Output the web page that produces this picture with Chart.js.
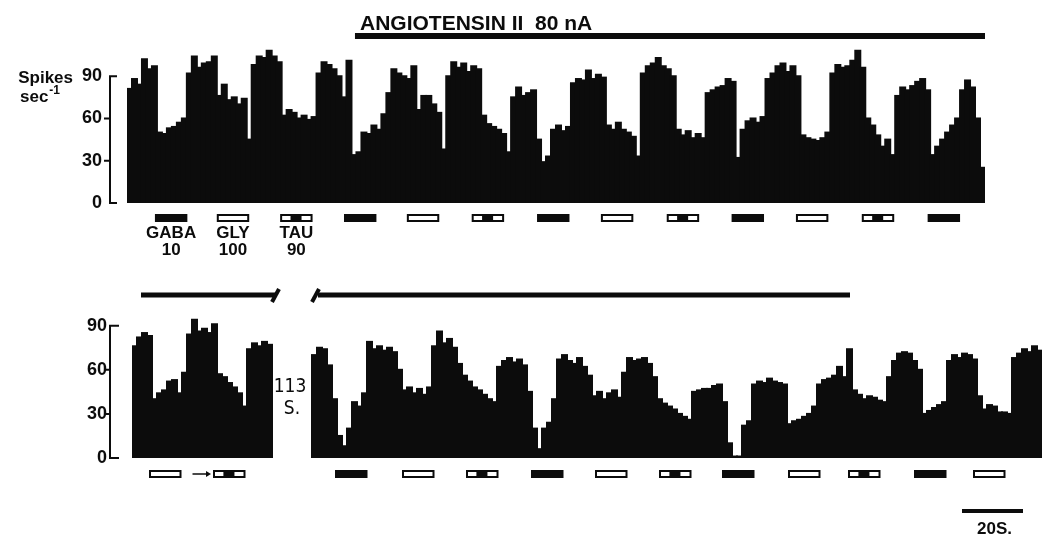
<!DOCTYPE html>
<html><head><meta charset="utf-8">
<script src="https://cdn.jsdelivr.net/npm/chart.js@4.4.1/dist/chart.umd.min.js"></script>
<style>
html,body{margin:0;padding:0;background:#fff;}
#wrap{position:relative;width:1045px;height:543px;overflow:hidden;}
canvas{position:absolute;left:0;top:0;}
</style></head><body>
<div id="wrap"><canvas id="topChart" width="1045" height="543"></canvas><canvas id="botChart" width="1045" height="543"></canvas></div>
<script>
// ---- data (spikes / sec, one value per ~1.6 s bin) ----
const topRate = [
81, 88, 84, 102, 95, 97,
50, 49, 53, 54, 57, 60,
92, 104, 96, 99, 100, 104,
76, 84, 73, 75, 70, 74, 45,
98, 104, 103, 108, 104, 100,
62, 66, 64, 60, 62, 59, 61,
92, 100, 98, 95, 90, 75, 101,
34, 36, 50, 49, 55, 52, 63,
78, 95, 92, 90, 88, 97,
66, 76, 76, 70, 64, 38,
90, 100, 96, 99, 93, 97, 95,
62, 56, 54, 52, 49,
36,
75, 82, 76, 78, 80,
45, 29, 33,
52, 55, 51, 54,
85, 88, 87, 94, 88, 91, 89,
55, 52, 57, 52, 50, 47,
33,
92, 97, 99, 103, 97, 95, 90,
52, 48, 51, 46, 49, 46,
78, 80, 82, 83, 88, 86,
32,
52, 58, 60, 57, 61,
88, 92, 97, 99, 93, 97, 90,
48, 46, 45, 44, 46, 50,
92, 98, 96, 97, 101, 108, 96,
60, 55, 48, 40, 45, 34,
76, 82, 80, 83, 86, 88, 80,
34,
40, 45, 50, 55, 60,
80, 87, 82,
60, 25
];
const bottomRateBefore = [76,82,85,83, 40,44,46,52,53,44, 58,84,94,86,88,85,91, 57,55,51,48,44,35, 74,78,76,79,77];
const gapBins = 8; // 113 s omitted
const bottomRateAfter = [70,75,74,63, 40,15,8, 20,38,35,44, 79,74,76,73,75,72,60, 46,48,44,47,43,48,
 76,86,78,81,75,64, 56,52,48,46,43,40, 38, 62,66,68,65,67,63, 45,20,6, 20,24,40,
 67,70,66,64,68,62,56, 42,45,40,44,46,41, 58,68,66,67,68,64,55, 40,37,35,33,30,28,26,
 45,46,47,47,49,50,38, 10,1,1, 22,25, 50,52,51,54,52,51,50, 23,25,26,28,30,35,
 50,53,54,56,62,55, 74, 46,43,40,42,41,39,38, 55,66,71,72,71,66,60, 30,32,34,36,38,
 66,70,68,71,70,67, 42,33,36,35,31,31,30, 68,71,74,72,76,73];
const yTicks = [0, 30, 60, 90];

const topDrugs = ['GABA','GLY','TAU','GABA','GLY','TAU','GABA','GLY','TAU','GABA','GLY','TAU','GABA'];
const topDrugStart = [5.6, 18.0, 30.7, 43.5, 56.1, 69.1, 82.2, 95.0, 108.2, 121.2, 134.1, 147.3, 160.5];
const bottomDrugs = ['GLY','TAU','GABA','GLY','TAU','GABA','GLY','TAU','GABA','GLY','TAU','GABA','GLY'];
const bottomDrugStart = [3.4, 16.2, 40.6, 54.0, 66.8, 79.8, 92.6, 105.4, 118.0, 131.2, 143.2, 156.4, 168.2];
const drugLength = 6.5;
const drugNames = ['GABA','GLY','TAU'];
const drugDoses = ['10','100','90'];
const angioLabel = 'ANGIOTENSIN II  80 nA';
const angioTop = [45.7, 172];
const angioBottomA = [1.8, 28.6];
const angioBottomB = [36.8, 143.6];
const gapLabel = ['113', 'S.'];
const scaleBarBins = [166, 178.2];
const scaleBarLabel = '20S.';

// ---- helpers ----
const F = '"Liberation Sans", Arial, sans-serif';
const INK = '#0c0c0c';
function binPx(chart, b){
  const xs = chart.scales.x;
  const w = xs.getPixelForValue(1) - xs.getPixelForValue(0);
  return xs.getPixelForValue(0) - w/2 + b*w;
}
function drawDrug(ctx, type, x0, x1, y0, h){
  ctx.save();
  if (type === 'GABA'){
    ctx.fillStyle = INK; ctx.fillRect(x0, y0, x1-x0, h);
  } else {
    ctx.fillStyle = '#fff'; ctx.fillRect(x0, y0, x1-x0, h);
    ctx.strokeStyle = INK; ctx.lineWidth = 2;
    ctx.strokeRect(x0+1, y0+1, x1-x0-2, h-2);
    if (type === 'TAU'){
      ctx.fillStyle = INK;
      ctx.fillRect(x0 + (x1-x0)*0.32, y0, (x1-x0)*0.34, h);
    }
  }
  ctx.restore();
}
const bracketPlugin = {
  id: 'bracket',
  afterDraw(chart, args, opts){
    const ctx = chart.ctx, ys = chart.scales.y;
    const x = chart.chartArea.left - opts.gap;
    const yT = ys.getPixelForValue(yTicks[yTicks.length-1]);
    const yB = ys.getPixelForValue(yTicks[0]);
    ctx.save();
    ctx.strokeStyle = INK; ctx.lineWidth = 2;
    ctx.beginPath();
    ctx.moveTo(x + opts.corner, yT); ctx.lineTo(x, yT); ctx.lineTo(x, yB); ctx.lineTo(x + opts.corner, yB);
    yTicks.slice(1, -1).forEach(v => { const y = ys.getPixelForValue(v); ctx.moveTo(x - 6, y); ctx.lineTo(x, y); });
    ctx.stroke();
    ctx.restore();
  }
};
const topAnno = {
  id: 'topAnno',
  afterDraw(chart){
    const ctx = chart.ctx, ca = chart.chartArea;
    const px = b => binPx(chart, b);
    ctx.save();
    ctx.fillStyle = INK;
    // angiotensin bar
    const l0 = px(angioTop[0]), l1 = px(angioTop[1]);
    ctx.fillRect(l0, 33, l1 - l0, 6);
    ctx.font = 'bold 21px ' + F; ctx.textAlign = 'left'; ctx.textBaseline = 'alphabetic';
    ctx.fillText(angioLabel, l0 + 5, 30);
    // y title
    ctx.font = 'bold 17px ' + F; ctx.textAlign = 'right'; ctx.textBaseline = 'middle';
    ctx.fillText('Spikes', 73, 78);
    ctx.textAlign = 'left';
    ctx.fillText('sec', 20, 97);
    const w = ctx.measureText('sec').width;
    ctx.font = 'bold 12px ' + F;
    ctx.fillText('-1', 20 + w + 1, 91);
    // drug markers
    topDrugs.forEach((d, i) => {
      drawDrug(ctx, d, px(topDrugStart[i]), px(topDrugStart[i] + drugLength), ca.bottom + 11, 8);
    });
    // drug labels under first three markers
    ctx.fillStyle = INK; ctx.font = 'bold 17px ' + F; ctx.textAlign = 'center'; ctx.textBaseline = 'middle';
    drugNames.forEach((n, i) => {
      const cx = (px(topDrugStart[i]) + px(topDrugStart[i] + drugLength)) / 2;
      ctx.fillText(n, cx, ca.bottom + 30);
      ctx.fillText(drugDoses[i], cx, ca.bottom + 47);
    });
    ctx.restore();
  }
};
const botAnno = {
  id: 'botAnno',
  afterDraw(chart){
    const ctx = chart.ctx, ca = chart.chartArea;
    const px = b => binPx(chart, b);
    ctx.save();
    ctx.fillStyle = INK; ctx.strokeStyle = INK;
    const yl = 295;
    let a0 = px(angioBottomA[0]), a1 = px(angioBottomA[1]);
    ctx.fillRect(a0, yl - 2.5, a1 - a0, 5);
    ctx.lineWidth = 4; ctx.lineCap = 'butt';
    ctx.beginPath(); ctx.moveTo(a1 - 3, yl + 7); ctx.lineTo(a1 + 4, yl - 6); ctx.stroke();
    let b0 = px(angioBottomB[0]), b1 = px(angioBottomB[1]);
    ctx.beginPath(); ctx.moveTo(b0 - 4, yl + 7); ctx.lineTo(b0 + 3, yl - 6); ctx.stroke();
    ctx.fillRect(b0 + 2, yl - 2.5, b1 - b0 - 2, 5);
    // gap label
    const gx = (px(bottomRateBefore.length) + px(bottomRateBefore.length + gapBins)) / 2;
    ctx.font = '19px "Liberation Sans Narrow", "DejaVu Sans Condensed", ' + F;
    ctx.textAlign = 'center'; ctx.textBaseline = 'middle';
    ctx.fillText(gapLabel[0], gx - 2, 387);
    ctx.fillText(gapLabel[1], gx, 409);
    // markers
    bottomDrugs.forEach((d, i) => {
      drawDrug(ctx, d, px(bottomDrugStart[i]), px(bottomDrugStart[i] + drugLength), ca.bottom + 12, 8);
    });
    // small arrow between first two markers
    const ar0 = px(bottomDrugStart[0] + drugLength + 2.2), ar1 = px(bottomDrugStart[1] - 0.4);
    ctx.lineWidth = 1.5;
    ctx.beginPath(); ctx.moveTo(ar0, ca.bottom + 16); ctx.lineTo(ar1 - 3, ca.bottom + 16); ctx.stroke();
    ctx.beginPath(); ctx.moveTo(ar1, ca.bottom + 16); ctx.lineTo(ar1 - 5, ca.bottom + 13); ctx.lineTo(ar1 - 5, ca.bottom + 19); ctx.closePath(); ctx.fill();
    // time scale bar
    const s0 = px(scaleBarBins[0]), s1 = px(scaleBarBins[1]);
    ctx.fillRect(s0, 509, s1 - s0, 4);
    ctx.font = 'bold 17px ' + F; ctx.textAlign = 'center'; ctx.textBaseline = 'middle';
    ctx.fillText(scaleBarLabel, (s0 + s1) / 2 + 2, 529);
    ctx.restore();
  }
};

function makeChart(id, values, yMax, left, pad, gap, corner, anno){
  return new Chart(document.getElementById(id), {
    type: 'bar',
    data: {
      labels: values.map((v, i) => i),
      datasets: [{ data: values, backgroundColor: INK, borderWidth: 0, inflateAmount: 1, barPercentage: 1, categoryPercentage: 1 }]
    },
    options: {
      responsive: false, animation: false, devicePixelRatio: 1,
      layout: { padding: pad },
      plugins: { legend: { display: false }, tooltip: { enabled: false }, bracket: { gap, corner } },
      scales: {
        x: { display: false, grid: { display: false } },
        y: {
          min: 0, max: yMax,
          afterBuildTicks: s => { s.ticks = yTicks.map(v => ({ value: v })); },
          afterFit: s => { s.width = left; },
          grid: { display: false, drawTicks: false },
          border: { display: false },
          ticks: { color: INK, padding: 25, font: { family: F, size: 18, weight: 'bold' } }
        }
      }
    },
    plugins: [bracketPlugin, anno]
  });
}
makeChart('topChart', topRate, 115, 127, { left: 0, top: 41, right: 60, bottom: 340 }, 17, 7, topAnno);
const bottomRate = bottomRateBefore.concat(new Array(gapBins).fill(null), bottomRateAfter);
makeChart('botChart', bottomRate, 100, 132, { left: 0, top: 311, right: 3, bottom: 85 }, 22, 9, botAnno);
</script>
</body></html>
